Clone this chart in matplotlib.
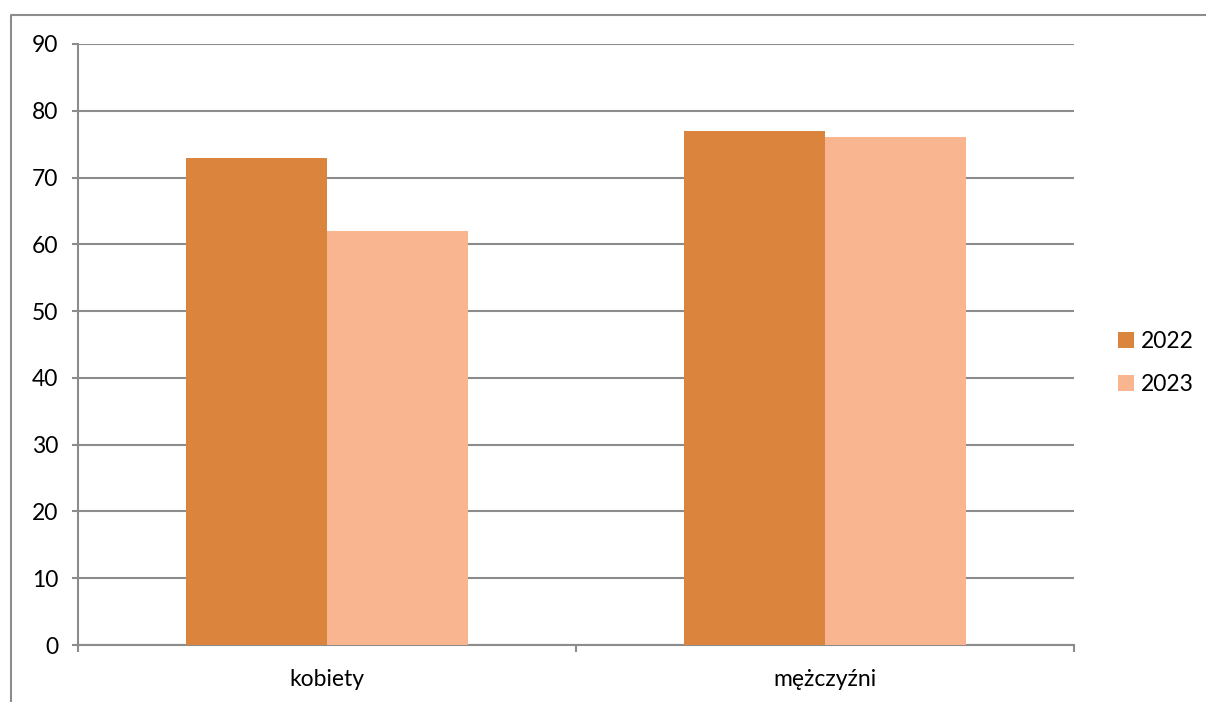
import matplotlib
matplotlib.use("Agg")
import matplotlib.pyplot as plt
from matplotlib.lines import Line2D
from matplotlib.patches import Patch
import numpy as np

categories = ["kobiety", "mężczyźni"]
series_names = ["2022", "2023"]
values_2022 = [73, 77]
values_2023 = [62, 76]
y_ticks = [0, 10, 20, 30, 40, 50, 60, 70, 80, 90]

c2022 = "#DB843D"
c2023 = "#F9B58F"
gray = "#8C8C8C"

plt.rcParams['font.family'] = ['Lato', 'DejaVu Sans']
fs = 16.5
plt.rcParams['font.size'] = fs

W, H = 1206, 702
fig = plt.figure(figsize=(W / 100, H / 100), dpi=100)
ax = fig.add_axes([78 / W, (H - 645) / H, 996 / W, 601 / H])

x = np.arange(len(categories))
bw = 0.284
ax.bar(x - bw / 2, values_2022, width=bw, color=c2022, zorder=3)
ax.bar(x + bw / 2, values_2023, width=bw, color=c2023, zorder=3)

ax.set_xlim(-0.5, len(categories) - 0.5)
ax.set_ylim(0, 90)
ax.set_yticks(y_ticks)
ax.yaxis.grid(True, color=gray, linewidth=1.5, zorder=0)
ax.tick_params(axis='y', length=4.3, width=1.5, color=gray, pad=10, labelsize=fs)

ax.set_xticks(x)
ax.set_xticklabels(categories)
ax.tick_params(axis='x', which='major', length=0, pad=17, labelsize=fs)
ax.set_xticks(np.arange(-0.5, len(categories), 1.0), minor=True)
ax.tick_params(axis='x', which='minor', length=5, width=1.5, color=gray)

for s in ['top', 'right']:
    ax.spines[s].set_visible(False)
for s in ['left', 'bottom']:
    ax.spines[s].set_color(gray)
    ax.spines[s].set_linewidth(1.5)

# outer frame
fig.add_artist(Line2D([10.5 / W, 10.5 / W, 1.0], [0.0, 1 - 14.5 / H, 1 - 14.5 / H],
                      transform=fig.transFigure, color=gray, linewidth=1.5))

handles = [Patch(facecolor=c2022), Patch(facecolor=c2023)]
fig.legend(handles, series_names, loc='center left',
           bbox_to_anchor=(1097 / W, 1 - 363 / H), frameon=False,
           handlelength=0.7, handleheight=0.7, handletextpad=0.3,
           labelspacing=1.0, fontsize=fs)

fig.savefig("out.png", dpi=100)
